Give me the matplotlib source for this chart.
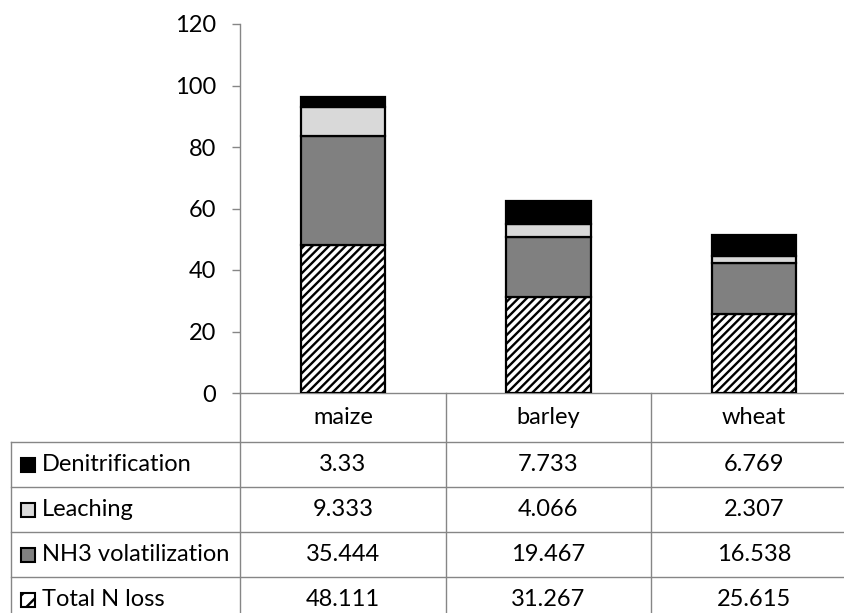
import matplotlib.pyplot as plt
from matplotlib.patches import Rectangle
from matplotlib.transforms import blended_transform_factory

plt.rcParams['font.family'] = ['Lato', 'DejaVu Sans']
plt.rcParams['hatch.linewidth'] = 1.7

# Veriler
crops = ["maize", "barley", "wheat"]
total_n_loss = [48.111, 31.267, 25.615]
nh3_volatilization = [35.444, 19.467, 16.538]
leaching = [9.333, 4.066, 2.307]
denitrification = [3.33, 7.733, 6.769]

W, H = 844, 613
grid_col = "#868686"
fs = 17

fig = plt.figure(figsize=(W / 100, H / 100), dpi=100)
ax = fig.add_axes([240 / W, 1 - 393 / H, (857 - 240) / W, (393 - 24) / H])

x = range(len(crops))
bw = 0.41
series = [
    ("Total N loss", total_n_loss, dict(color="white", hatch="////")),
    ("NH3 volatilization", nh3_volatilization, dict(color="#808080")),
    ("Leaching", leaching, dict(color="#d9d9d9")),
    ("Denitrification", denitrification, dict(color="black")),
]
bottom = [0.0] * len(crops)
for name, vals, style in series:
    ax.bar(x, vals, bw, bottom=bottom, edgecolor="black", linewidth=1.6,
           label=name, zorder=3, **style)
    bottom = [b + v for b, v in zip(bottom, vals)]

ax.set_xlim(-0.5, 2.5)
ax.set_ylim(0, 120)
ax.set_yticks(range(0, 121, 20))
ax.set_xticks([])
for s in ["top", "right"]:
    ax.spines[s].set_visible(False)
for s in ["left", "bottom"]:
    ax.spines[s].set_color(grid_col)
    ax.spines[s].set_linewidth(1.0)
ax.tick_params(axis="y", direction="out", length=6, width=1.0, color=grid_col,
               labelsize=fs, pad=11)

# Veri tablosu (grafiğin altında)
def fy(py):
    return 1 - py / H

tr = blended_transform_factory(ax.transData, fig.transFigure)
row_lines = [442, 487, 532, 577]
for py in row_lines:
    fig.add_artist(plt.Line2D([11 / W, 1.02], [fy(py)] * 2, color=grid_col,
                              lw=1.0, transform=fig.transFigure))
for xb in [-0.5, 0.5, 1.5, 2.5]:
    fig.add_artist(plt.Line2D([xb, xb], [fy(393), fy(625)], color=grid_col,
                              lw=1.0, transform=tr))
fig.add_artist(plt.Line2D([11 / W, 11 / W], [fy(442), fy(625)], color=grid_col,
                          lw=1.0, transform=fig.transFigure))

for i, c in enumerate(crops):
    fig.text(i, fy(417), c, transform=tr, ha="center", va="center", fontsize=fs)

table_rows = series[::-1]
row_centers = [464.5, 509.5, 554.5, 599.5]
for (name, vals, style), py in zip(table_rows, row_centers):
    sq = Rectangle((21 / W, fy(py) - 7 / H), 14 / W, 14 / H,
                   transform=fig.transFigure, facecolor=style["color"],
                   edgecolor="black", lw=1.5,
                   hatch="//" if "hatch" in style else None)
    fig.add_artist(sq)
    fig.text(42 / W, fy(py), name, ha="left", va="center", fontsize=fs)
    for i, v in enumerate(vals):
        fig.text(i, fy(py), f"{v:g}", transform=tr, ha="center", va="center",
                 fontsize=fs)

fig.savefig("out.png", dpi=100)
